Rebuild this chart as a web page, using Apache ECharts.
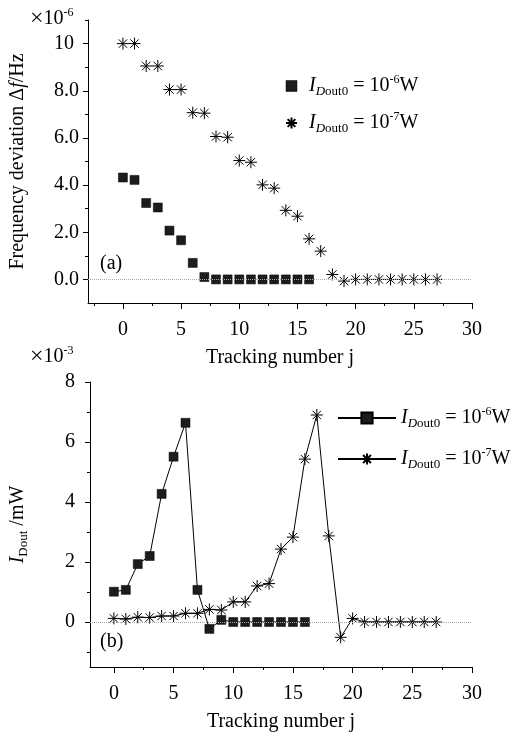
<!DOCTYPE html>
<html>
<head>
<meta charset="utf-8">
<script src="https://cdn.jsdelivr.net/npm/echarts@6/dist/echarts.min.js"></script>
<style>html,body{margin:0;padding:0;background:#fff}#c{width:515px;height:735px}</style>
</head>
<body>
<div id="c"></div>
<script>
// ---- data ----
const jSquare = [0,1,2,3,4,5,6,7,8,9,10,11,12,13,14,15,16];
const jStar = [0,1,2,3,4,5,6,7,8,9,10,11,12,13,14,15,16,17,18,19,20,21,22,23,24,25,26,27];
const freqSquare = [4.32,4.22,3.24,3.05,2.07,1.66,0.70,0.10,0,0,0,0,0,0,0,0,0];
const freqStar = [10.0,10.0,9.05,9.05,8.05,8.05,7.07,7.05,6.06,6.03,5.04,4.97,4.01,3.87,2.93,2.68,1.72,1.20,0.21,-0.07,0,0,0,0,0,0,0,0];
const powSquare = [1.01,1.07,1.93,2.20,4.27,5.51,6.64,1.07,-0.23,0.07,0,0,0,0,0,0,0];
const powStar = [0.12,0.10,0.16,0.15,0.20,0.20,0.29,0.29,0.42,0.40,0.67,0.67,1.20,1.28,2.43,2.83,5.43,6.90,2.87,-0.51,0.12,0,0,0,0,0,0,0];
const xMajor = [0,5,10,15,20,25,30];
const xMinorTop = [-2.5,2.5,7.5,12.5,17.5,22.5,27.5];
const xMinorBot = [2.5,7.5,12.5,17.5,22.5,27.5];
const yMajorTop = [0,2,4,6,8,10];
const yMinorTop = [1,3,5,7,9,11];
const yMajorBot = [0,2,4,6,8];
const yMinorBot = [-1,1,3,5,7];

const FONT = 'Liberation Serif, Times New Roman, serif';
const starPath = 'path://M5,0L5,10M0,5L10,5M1.5,1.5L8.5,8.5M1.5,8.5L8.5,1.5';
const pair = (xs, ys) => xs.map((x, i) => [x, ys[i]]);

function richLegend(padLeft) {
  return {
    i: {fontFamily: FONT, fontSize: 20, fontStyle: 'italic', color: '#000', lineHeight: 24, padding: [0, 0, 0, padLeft]},
    sd: {fontFamily: FONT, fontSize: 13, fontStyle: 'italic', color: '#000', lineHeight: 13, verticalAlign: 'bottom'},
    so: {fontFamily: FONT, fontSize: 13, color: '#000', lineHeight: 13, verticalAlign: 'bottom'},
    t: {fontFamily: FONT, fontSize: 20, color: '#000', lineHeight: 24},
    p: {fontFamily: FONT, fontSize: 12, color: '#000', lineHeight: 12, verticalAlign: 'top'}
  };
}
const legendFmt = name => {
  const e = name.endsWith('6') ? '-6' : '-7';
  return '{i|I}{sd|D}{so|out0}{t| = 10}{p|' + e + '}{t|W}';
};

function axisX(grid, minor, isMajor) {
  return {
    type: 'value', gridIndex: grid, position: 'bottom',
    min: grid === 0 ? -3 : -2, max: 30,
    axisLine: {show: isMajor, onZero: false, lineStyle: {color: '#000', width: 1}},
    axisTick: {show: true, inside: false, length: isMajor ? 6 : 3, customValues: isMajor ? xMajor : minor, lineStyle: {color: '#000'}},
    axisLabel: {show: isMajor, customValues: xMajor, color: '#000', fontFamily: FONT, fontSize: 20, margin: 17},
    splitLine: {show: false},
    name: isMajor ? 'Tracking number j' : '', nameLocation: 'middle', nameGap: 45,
    nameTextStyle: {color: '#000', fontFamily: FONT, fontSize: 20}
  };
}
function axisY(grid, isMajor, major, minor, min, max, fmt, name, extra) {
  return Object.assign({
    type: 'value', gridIndex: grid, position: 'left', min: min, max: max,
    axisLine: {show: isMajor, onZero: false, lineStyle: {color: '#000', width: 1}},
    axisTick: {show: true, inside: false, length: isMajor ? 5 : 3, customValues: isMajor ? major : minor, lineStyle: {color: '#000'}},
    axisLabel: {show: isMajor, customValues: major, color: '#000', fontFamily: FONT, fontSize: 20, formatter: fmt},
    splitLine: {show: false},
    name: isMajor ? name : '', nameLocation: 'middle', nameGap: 60
  }, extra || {});
}

const zeroLine = {
  silent: true, symbol: ['none', 'none'], label: {show: false},
  lineStyle: {type: 'dotted', color: '#aaa', width: 1}, data: [{yAxis: 0}]
};
const supRich = {
  x: {fontFamily: FONT, fontSize: 24, color: '#000', lineHeight: 24},
  n: {fontFamily: FONT, fontSize: 20, color: '#000', lineHeight: 24},
  p: {fontFamily: FONT, fontSize: 12, color: '#000', verticalAlign: 'top', lineHeight: 12}
};
const squareStyle = {color: '#1c1c1c', borderColor: '#000', borderWidth: 0.5, opacity: 1};
const starStyle = {color: '#000', borderColor: '#000', borderWidth: 1, opacity: 1};

const option = {
  backgroundColor: '#fff',
  animation: false,
  grid: [
    {left: 87, top: 20, width: 385, height: 283},
    {left: 87, top: 382, width: 385, height: 285}
  ],
  xAxis: [
    axisX(0, xMinorTop, true), axisX(0, xMinorTop, false),
    axisX(1, xMinorBot, true), axisX(1, xMinorBot, false)
  ],
  yAxis: [
    axisY(0, true, yMajorTop, yMinorTop, -1, 11, v => v === 10 ? '10' : v.toFixed(1), 'Frequency deviation Δ{it|f}/Hz',
      {axisLabel: {show: true, customValues: yMajorTop, color: '#000', fontFamily: FONT, fontSize: 20, align: 'left', margin: 34,
        formatter: v => v === 10 ? '10' : v.toFixed(1)},
       nameTextStyle: {color: '#000', fontFamily: FONT, fontSize: 20, rich: {it: {fontFamily: FONT, fontSize: 20, fontStyle: 'italic', color: '#000'}}}}),
    axisY(0, false, yMajorTop, yMinorTop, -1, 11, null, ''),
    axisY(1, true, yMajorBot, yMinorBot, -1.5, 8, v => String(v), '{i|I}{s|Dout}{t| /mW}',
      {axisLabel: {show: true, customValues: yMajorBot, color: '#000', fontFamily: FONT, fontSize: 20, margin: 15},
       nameTextStyle: {color: '#000', fontFamily: FONT, fontSize: 20, rich: {
         i: {fontFamily: FONT, fontSize: 20, fontStyle: 'italic', color: '#000', lineHeight: 24},
         s: {fontFamily: FONT, fontSize: 13, color: '#000', lineHeight: 13, verticalAlign: 'bottom'},
         t: {fontFamily: FONT, fontSize: 20, color: '#000', lineHeight: 24}}}}),
    axisY(1, false, yMajorBot, yMinorBot, -1.5, 8, null, '')
  ],
  legend: [
    {
      orient: 'vertical', left: 280, top: 69, itemWidth: 11, itemHeight: 11, itemGap: 13,
      data: [
        {name: 'a6', icon: 'path://M1,1L9,1L9,9L1,9Z', itemStyle: squareStyle},
        {name: 'a7'}
      ],
      formatter: legendFmt, textStyle: {rich: richLegend(7)}, selectedMode: false
    },
    {
      orient: 'vertical', left: 332, top: 401, itemWidth: 58, itemHeight: 14, itemGap: 17,
      data: ['b6', 'b7'], formatter: legendFmt, textStyle: {rich: richLegend(0)}, selectedMode: false
    }
  ],
  graphic: [
    {type: 'text', left: 30, top: 7, style: {text: '{x|×}{n|10}{p|-6}', rich: supRich}},
    {type: 'text', left: 30, top: 345, style: {text: '{x|×}{n|10}{p|-3}', rich: supRich}},
    {type: 'text', left: 100, top: 254, style: {text: '(a)', fontFamily: FONT, fontSize: 20, fill: '#000'}},
    {type: 'text', left: 100, top: 632, style: {text: '(b)', fontFamily: FONT, fontSize: 20, fill: '#000'}}
  ],
  series: [
    {name: 'a6', type: 'scatter', xAxisIndex: 0, yAxisIndex: 0, data: pair(jSquare, freqSquare),
      symbol: 'rect', symbolSize: 9, itemStyle: squareStyle, markLine: zeroLine, z: 3},
    {name: 'a7', type: 'scatter', xAxisIndex: 0, yAxisIndex: 0, data: pair(jStar, freqStar),
      symbol: starPath, symbolSize: 12, itemStyle: starStyle, z: 3},
    {name: 'b6', type: 'line', xAxisIndex: 2, yAxisIndex: 2, data: pair(jSquare, powSquare),
      symbol: 'rect', symbolSize: 9, showAllSymbol: true, lineStyle: {color: '#000', width: 1},
      itemStyle: squareStyle, markLine: zeroLine, z: 3},
    {name: 'b7', type: 'line', xAxisIndex: 2, yAxisIndex: 2, data: pair(jStar, powStar),
      symbol: starPath, symbolSize: 12, showAllSymbol: true, lineStyle: {color: '#000', width: 1},
      itemStyle: starStyle, z: 3}
  ]
};
const chart = echarts.init(document.getElementById('c'), null, {renderer: 'canvas'});
chart.setOption(option);
</script>
</body>
</html>
